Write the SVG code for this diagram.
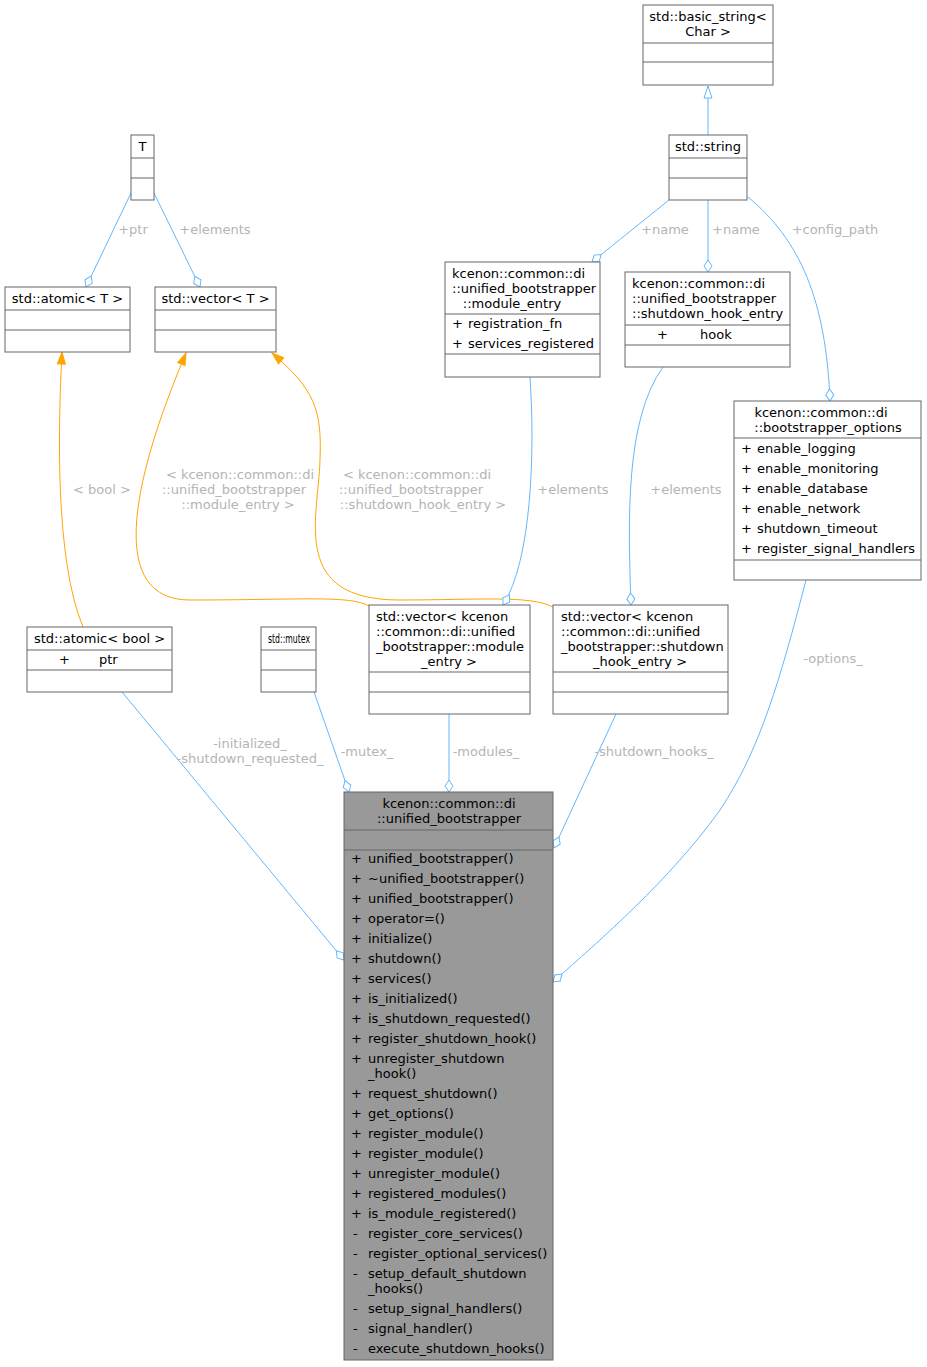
<svg xmlns="http://www.w3.org/2000/svg" width="927" height="1367" viewBox="0 0 927 1367">
<style>
text{font-family:"DejaVu Sans",sans-serif;font-size:13px;fill:#000}
.b{fill:#fff;stroke:#666;stroke-width:1}
.m{fill:#999;stroke:#666;stroke-width:1}
.s{stroke:#666;stroke-width:1}
.c{text-anchor:middle}
.e{fill:none;stroke:#63b8ff;stroke-width:1}
.o{fill:none;stroke:#ffa500;stroke-width:1}
.l{fill:#b4b4b4;text-anchor:middle}
</style>
<defs>
<marker id="d" markerUnits="userSpaceOnUse" markerWidth="14" markerHeight="10" refX="12" refY="5" orient="auto" overflow="visible"><path d="M0,5 L6,1 L12,5 L6,9 Z" fill="#fff" stroke="#63b8ff"/></marker>
<marker id="t" markerUnits="userSpaceOnUse" markerWidth="14" markerHeight="10" refX="12" refY="5" orient="auto" overflow="visible"><path d="M0,1 L12,5 L0,9 Z" fill="#fff" stroke="#63b8ff"/></marker>
<marker id="a" markerUnits="userSpaceOnUse" markerWidth="14" markerHeight="10" refX="12" refY="5" orient="auto" overflow="visible"><path d="M0,1 L12,5 L0,9 Z" fill="#ffa500" stroke="#ffa500"/></marker>
</defs>
<g id="edges">
<path class="e" d="M708,135 L708,86" marker-end="url(#t)"/>
<path class="e" d="M669,200 L592,262" marker-end="url(#d)"/>
<text class="l" x="665" y="234">+name</text>
<path class="e" d="M708,200 L708,272" marker-end="url(#d)"/>
<text class="l" x="736" y="234">+name</text>
<path class="e" d="M748,197 C800,240 826,300 830,401" marker-end="url(#d)"/>
<text class="l" x="835" y="234">+config_path</text>
<path class="e" d="M131,193 L86,287" marker-end="url(#d)"/>
<text class="l" x="133" y="234">+ptr</text>
<path class="e" d="M154,193 L200,287" marker-end="url(#d)"/>
<text class="l" x="215" y="234">+elements</text>
<path class="o" d="M83,627 C55,560 58,430 62,352" marker-end="url(#a)"/>
<text class="l" x="102" y="494">&lt; bool &gt;</text>
<path class="o" d="M369,606 C350,595 300,600 190,600 C110,600 128,490 186,353" marker-end="url(#a)"/>
<text class="l" x="240" y="479">&lt; kcenon::common::di</text>
<text class="l" x="234" y="494">::unified_bootstrapper</text>
<text class="l" x="238" y="509">::module_entry &gt;</text>
<path class="o" d="M553,607 C530,595 480,600 400,600 C290,600 318,520 320,460 C322,410 315,390 272,353" marker-end="url(#a)"/>
<text class="l" x="417" y="479">&lt; kcenon::common::di</text>
<text class="l" x="411" y="494">::unified_bootstrapper</text>
<text class="l" x="423" y="509">::shutdown_hook_entry &gt;</text>
<path class="e" d="M530,377 C535,450 532,560 503,605" marker-end="url(#d)"/>
<text class="l" x="573" y="494">+elements</text>
<path class="e" d="M663,367 C625,420 628,520 631,605" marker-end="url(#d)"/>
<text class="l" x="686" y="494">+elements</text>
<path class="e" d="M806,580 C780,680 760,750 720,810 C670,880 600,940 553,982" marker-end="url(#d)"/>
<text class="l" x="833" y="663">-options_</text>
<path class="e" d="M122,692 L344,960" marker-end="url(#d)"/>
<text class="l" x="250" y="748">-initialized_</text>
<text class="l" x="250" y="763">-shutdown_requested_</text>
<path class="e" d="M314,692 L349,792" marker-end="url(#d)"/>
<text class="l" x="367" y="756">-mutex_</text>
<path class="e" d="M449,714 L449,792" marker-end="url(#d)"/>
<text class="l" x="486" y="756">-modules_</text>
<path class="e" d="M616,714 L554,848" marker-end="url(#d)"/>
<text class="l" x="654" y="756">-shutdown_hooks_</text>
</g>
<g id="basic_string">
<rect class="b" x="643" y="5" width="130" height="80"/>
<line class="s" x1="643" y1="43" x2="773" y2="43"/><line class="s" x1="643" y1="62" x2="773" y2="62"/>
<text class="c" x="708" y="21">std::basic_string&lt;</text><text class="c" x="708" y="36">Char &gt;</text>
</g>
<g id="string">
<rect class="b" x="669" y="135" width="78" height="65"/>
<line class="s" x1="669" y1="158" x2="747" y2="158"/><line class="s" x1="669" y1="178" x2="747" y2="178"/>
<text class="c" x="708" y="151">std::string</text>
</g>
<g id="T">
<rect class="b" x="131" y="135" width="23" height="65"/>
<line class="s" x1="131" y1="158" x2="154" y2="158"/><line class="s" x1="131" y1="178" x2="154" y2="178"/>
<text class="c" x="142.5" y="151">T</text>
</g>
<g id="atomicT">
<rect class="b" x="5" y="287" width="125" height="65"/>
<line class="s" x1="5" y1="310" x2="130" y2="310"/><line class="s" x1="5" y1="330" x2="130" y2="330"/>
<text class="c" x="67.5" y="303">std::atomic&lt; T &gt;</text>
</g>
<g id="vectorT">
<rect class="b" x="155" y="287" width="121" height="65"/>
<line class="s" x1="155" y1="310" x2="276" y2="310"/><line class="s" x1="155" y1="330" x2="276" y2="330"/>
<text class="c" x="215.5" y="303">std::vector&lt; T &gt;</text>
</g>
<g id="module_entry">
<rect class="b" x="445" y="262" width="155" height="115"/>
<line class="s" x1="445" y1="314" x2="600" y2="314"/><line class="s" x1="445" y1="354" x2="600" y2="354"/>
<text x="452" y="278">kcenon::common::di</text>
<text x="452" y="293">::unified_bootstrapper</text>
<text class="c" x="512" y="308">::module_entry</text>
<text x="452" y="328">+</text><text x="468" y="328">registration_fn</text>
<text x="452" y="348">+</text><text x="468" y="348">services_registered</text>
</g>
<g id="shutdown_hook_entry">
<rect class="b" x="625" y="272" width="165" height="95"/>
<line class="s" x1="625" y1="325" x2="790" y2="325"/><line class="s" x1="625" y1="345" x2="790" y2="345"/>
<text x="632" y="288">kcenon::common::di</text>
<text x="632" y="303">::unified_bootstrapper</text>
<text x="632" y="318">::shutdown_hook_entry</text>
<text x="657" y="339">+</text><text x="700" y="339">hook</text>
</g>
<g id="options">
<rect class="b" x="734" y="401" width="187" height="179"/>
<line class="s" x1="734" y1="438" x2="921" y2="438"/><line class="s" x1="734" y1="560" x2="921" y2="560"/>
<text class="c" x="821" y="417">kcenon::common::di</text>
<text class="c" x="828" y="432">::bootstrapper_options</text>
<text x="741" y="453">+</text><text x="757" y="453">enable_logging</text>
<text x="741" y="473">+</text><text x="757" y="473">enable_monitoring</text>
<text x="741" y="493">+</text><text x="757" y="493">enable_database</text>
<text x="741" y="513">+</text><text x="757" y="513">enable_network</text>
<text x="741" y="533">+</text><text x="757" y="533">shutdown_timeout</text>
<text x="741" y="553">+</text><text x="757" y="553">register_signal_handlers</text>
</g>
<g id="atomic_bool">
<rect class="b" x="27" y="627" width="145" height="65"/>
<line class="s" x1="27" y1="650" x2="172" y2="650"/><line class="s" x1="27" y1="670" x2="172" y2="670"/>
<text class="c" x="99.5" y="643">std::atomic&lt; bool &gt;</text>
<text x="59" y="664">+</text><text x="99" y="664">ptr</text>
</g>
<g id="mutex">
<rect class="b" x="261" y="627" width="55" height="65"/>
<line class="s" x1="261" y1="650" x2="316" y2="650"/><line class="s" x1="261" y1="670" x2="316" y2="670"/>
<text x="268" y="643" textLength="42" lengthAdjust="spacingAndGlyphs">std::mutex</text>
</g>
<g id="vector_module">
<rect class="b" x="369" y="605" width="161" height="109"/>
<line class="s" x1="369" y1="672" x2="530" y2="672"/><line class="s" x1="369" y1="692" x2="530" y2="692"/>
<text x="376" y="621">std::vector&lt; kcenon</text>
<text x="376" y="636">::common::di::unified</text>
<text x="376" y="651">_bootstrapper::module</text>
<text class="c" x="449" y="666">_entry &gt;</text>
</g>
<g id="vector_shutdown">
<rect class="b" x="553" y="605" width="175" height="109"/>
<line class="s" x1="553" y1="672" x2="728" y2="672"/><line class="s" x1="553" y1="692" x2="728" y2="692"/>
<text x="561" y="621">std::vector&lt; kcenon</text>
<text x="561" y="636">::common::di::unified</text>
<text x="561" y="651">_bootstrapper::shutdown</text>
<text class="c" x="640" y="666">_hook_entry &gt;</text>
</g>
<g id="unified_bootstrapper">
<rect class="m" x="344" y="792" width="209" height="568"/>
<line class="s" x1="344" y1="830" x2="553" y2="830"/><line class="s" x1="344" y1="850" x2="553" y2="850"/>
<text class="c" x="449" y="808">kcenon::common::di</text>
<text class="c" x="449" y="823">::unified_bootstrapper</text>
<text x="351" y="863">+</text><text x="368" y="863">unified_bootstrapper()</text>
<text x="351" y="883">+</text><text x="368" y="883">~unified_bootstrapper()</text>
<text x="351" y="903">+</text><text x="368" y="903">unified_bootstrapper()</text>
<text x="351" y="923">+</text><text x="368" y="923">operator=()</text>
<text x="351" y="943">+</text><text x="368" y="943">initialize()</text>
<text x="351" y="963">+</text><text x="368" y="963">shutdown()</text>
<text x="351" y="983">+</text><text x="368" y="983">services()</text>
<text x="351" y="1003">+</text><text x="368" y="1003">is_initialized()</text>
<text x="351" y="1023">+</text><text x="368" y="1023">is_shutdown_requested()</text>
<text x="351" y="1043">+</text><text x="368" y="1043">register_shutdown_hook()</text>
<text x="351" y="1063">+</text><text x="368" y="1063">unregister_shutdown</text>
<text x="368" y="1078">_hook()</text>
<text x="351" y="1098">+</text><text x="368" y="1098">request_shutdown()</text>
<text x="351" y="1118">+</text><text x="368" y="1118">get_options()</text>
<text x="351" y="1138">+</text><text x="368" y="1138">register_module()</text>
<text x="351" y="1158">+</text><text x="368" y="1158">register_module()</text>
<text x="351" y="1178">+</text><text x="368" y="1178">unregister_module()</text>
<text x="351" y="1198">+</text><text x="368" y="1198">registered_modules()</text>
<text x="351" y="1218">+</text><text x="368" y="1218">is_module_registered()</text>
<text x="353" y="1238">-</text><text x="368" y="1238">register_core_services()</text>
<text x="353" y="1258">-</text><text x="368" y="1258">register_optional_services()</text>
<text x="353" y="1278">-</text><text x="368" y="1278">setup_default_shutdown</text>
<text x="368" y="1293">_hooks()</text>
<text x="353" y="1313">-</text><text x="368" y="1313">setup_signal_handlers()</text>
<text x="353" y="1333">-</text><text x="368" y="1333">signal_handler()</text>
<text x="353" y="1353">-</text><text x="368" y="1353">execute_shutdown_hooks()</text>
</g>
</svg>
